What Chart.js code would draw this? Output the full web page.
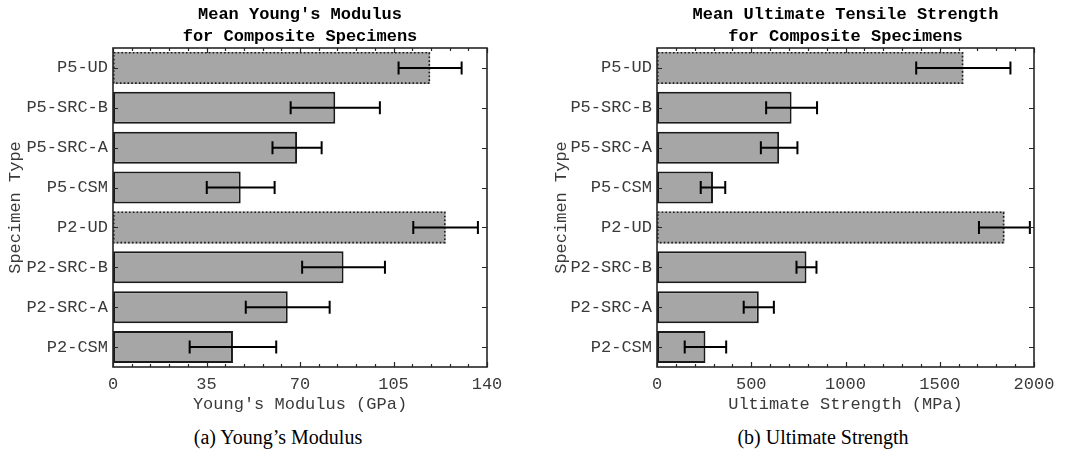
<!DOCTYPE html>
<html><head><meta charset="utf-8">
<script src="https://cdn.jsdelivr.net/npm/chart.js@4.4.1/dist/chart.umd.min.js"></script>
<style>
html,body{margin:0;padding:0;background:#fff;width:1070px;height:459px;overflow:hidden}
#c1{position:absolute;left:0;top:0}
#c2{position:absolute;left:535px;top:0}
.cap{position:absolute;top:426px;font-family:"Liberation Serif",serif;font-size:20px;color:#000;transform:translateX(-50%);white-space:nowrap;line-height:23px}
</style></head><body>
<canvas id="c1" width="535" height="420"></canvas>
<canvas id="c2" width="535" height="420"></canvas>
<div class="cap" style="left:278px">(a) Young’s Modulus</div>
<div class="cap" style="left:823px">(b) Ultimate Strength</div>
<script>
const categories = ['P5-UD','P5-SRC-B','P5-SRC-A','P5-CSM','P2-UD','P2-SRC-B','P2-SRC-A','P2-CSM'];
const dottedCategories = ['P5-UD','P2-UD'];
const modulusMean = [118.7, 83.2, 68.9, 47.8, 124.5, 86.3, 65.4, 44.9];
const modulusErr  = [11.8, 16.7, 9.2, 12.7, 12.1, 15.5, 15.7, 16.2];
const strengthMean = [1625, 714, 648, 297, 1843, 793, 540, 257];
const strengthErr  = [250, 135, 97, 65, 135, 53, 80, 110];
const modulusTicks = [0, 35, 70, 105, 140];
const strengthTicks = [0, 500, 1000, 1500, 2000];
const modulusTitle = ['Mean Young\'s Modulus', 'for Composite Specimens'];
const strengthTitle = ['Mean Ultimate Tensile Strength', 'for Composite Specimens'];

const MONO = '"Liberation Mono", "Courier New", monospace';
const AX = '#262626';
const TXT = '#3a3a3a';

const decorPlugin = {
  id: 'decor',
  afterDatasetsDraw(chart, args, opts) {
    const ctx = chart.ctx;
    const meta = chart.getDatasetMeta(0);
    const xs = chart.scales.x, ys = chart.scales.y;
    const ca = chart.chartArea;
    ctx.save();
    // dotted borders
    meta.data.forEach((bar, i) => {
      if (!dottedCategories.includes(categories[i])) return;
      const p = bar.getProps(['x','y','base','height'], true);
      ctx.setLineDash([1.6, 2.2]);
      ctx.lineWidth = 1.6;
      ctx.strokeStyle = '#1a1a1a';
      const l = Math.min(p.base, p.x), r = Math.max(p.base, p.x);
      ctx.strokeRect(l + 0.8, p.y - p.height/2 + 0.8, r - l - 1.6, p.height - 1.6);
    });
    ctx.setLineDash([]);
    // error bars
    const means = opts.means, errs = opts.errs;
    ctx.strokeStyle = '#000';
    ctx.lineWidth = 2;
    meta.data.forEach((bar, i) => {
      const y = bar.y;
      const x0 = xs.getPixelForValue(means[i] - errs[i]);
      const x1 = xs.getPixelForValue(means[i] + errs[i]);
      ctx.beginPath();
      ctx.moveTo(x0, y); ctx.lineTo(x1, y);
      ctx.moveTo(x0, y - 6.5); ctx.lineTo(x0, y + 6.5);
      ctx.moveTo(x1, y - 6.5); ctx.lineTo(x1, y + 6.5);
      ctx.stroke();
    });
    // ticks
    ctx.strokeStyle = AX;
    ctx.lineWidth = 1.2;
    const minorStep = opts.minorStep;
    ctx.beginPath();
    for (let v = xs.min; v <= xs.max + 1e-9; v += minorStep) {
      const x = Math.round(xs.getPixelForValue(v)) + 0.5;
      const major = xs.ticks.some(t => Math.abs(t.value - v) < 1e-6);
      const len = major ? 5 : 3;
      ctx.moveTo(x, ca.bottom); ctx.lineTo(x, ca.bottom - len);
      ctx.moveTo(x, ca.top); ctx.lineTo(x, ca.top + len);
    }
    ys.ticks.forEach((t, i) => {
      const y = Math.round(ys.getPixelForTick(i)) + 0.5;
      ctx.moveTo(ca.left, y); ctx.lineTo(ca.left + 5, y);
      ctx.moveTo(ca.right, y); ctx.lineTo(ca.right - 5, y);
    });
    ctx.stroke();
    // box
    ctx.lineWidth = 1.6;
    ctx.strokeRect(ca.left, ca.top, ca.right - ca.left, ca.bottom - ca.top);
    ctx.restore();
  },
  afterDraw(chart, args, opts) {
    const ctx = chart.ctx, ca = chart.chartArea;
    ctx.save();
    ctx.font = 'bold 17px ' + MONO;
    ctx.fillStyle = '#000';
    ctx.textAlign = 'center';
    ctx.textBaseline = 'middle';
    const cx = (ca.left + ca.right) / 2;
    ctx.fillText(opts.title[0], cx, 15);
    ctx.fillText(opts.title[1], cx, 37);
    ctx.restore();
  }
};

function makeChart(id, means, errs, tickVals, minorStep, xTitle, title, padLeft, yWidth, padRight) {
  return new Chart(document.getElementById(id), {
    type: 'bar',
    data: {
      labels: categories,
      datasets: [{
        data: means,
        backgroundColor: '#a6a6a6',
        borderColor: '#1a1a1a',
        borderWidth: categories.map(c => dottedCategories.includes(c) ? 0 : 2),
        borderSkipped: false,
        barPercentage: 0.8,
        categoryPercentage: 1.0
      }]
    },
    options: {
      indexAxis: 'y',
      responsive: false,
      animation: false,
      layout: { padding: { left: padLeft, right: padRight, top: 48, bottom: 0 } },
      plugins: {
        legend: { display: false },
        title: { display: false },
        tooltip: { enabled: false },
        decor: { means: means, errs: errs, minorStep: minorStep, title: title }
      },
      scales: {
        x: {
          type: 'linear',
          min: tickVals[0],
          max: tickVals[tickVals.length - 1],
          afterBuildTicks: s => { s.ticks = tickVals.map(v => ({ value: v })); },
          grid: { display: false, drawTicks: false },
          border: { display: false },
          ticks: { font: { family: MONO, size: 17 }, color: TXT, padding: 7, maxRotation: 0, callback: v => String(v) },
          title: { display: true, text: xTitle, font: { family: MONO, size: 17 }, color: TXT, padding: { top: 0, bottom: 5 } },
          afterFit: s => { s.height = 53; }
        },
        y: {
          grid: { display: false, drawTicks: false },
          border: { display: false },
          ticks: { font: { family: MONO, size: 17 }, color: TXT, padding: 5 },
          title: { display: true, text: 'Specimen Type', font: { family: MONO, size: 17 }, color: TXT, padding: { top: 5, bottom: 0 } },
          afterFit: s => { s.width = yWidth; }
        }
      }
    },
    plugins: [decorPlugin]
  });
}

makeChart('c1', modulusMean, modulusErr, modulusTicks, 7, "Young's Modulus (GPa)", modulusTitle, 0, 113, 48);
makeChart('c2', strengthMean, strengthErr, strengthTicks, 100, 'Ultimate Strength (MPa)', strengthTitle, 11, 111, 36);
</script>
</body></html>
